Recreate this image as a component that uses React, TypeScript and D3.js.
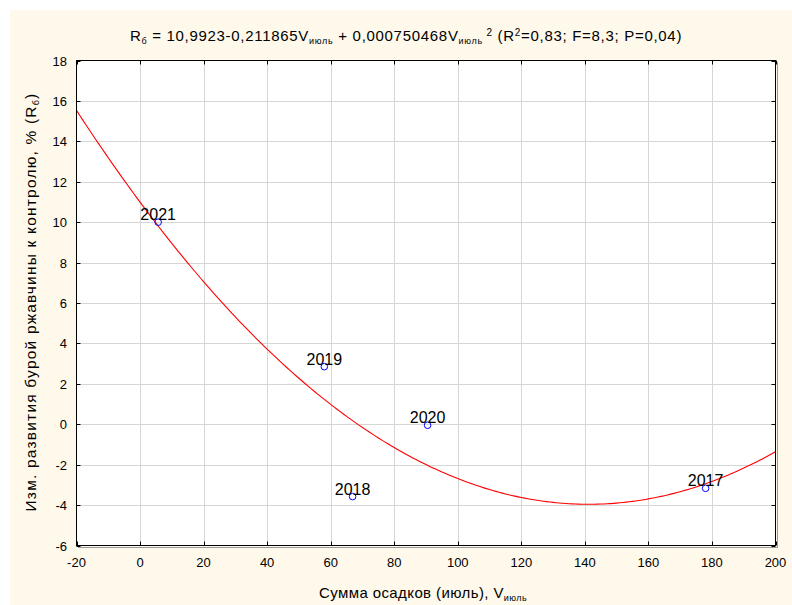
import React, { useEffect, useRef } from 'react';
import * as d3 from 'd3';

// observed points (year, July precipitation, change vs control)
const years = ['2017', '2018', '2019', '2020', '2021'];
const rainfall = [178, 66.9, 58, 90.5, 5.7];
const change = [-3.17, -3.58, 2.85, -0.05, 10.0];

// regression coefficients printed in the chart title
const coefs = [10.9923, -0.211865, 0.000750468];

const xTicks = [-20, 0, 20, 40, 60, 80, 100, 120, 140, 160, 180, 200];
const yTicks = [-6, -4, -2, 0, 2, 4, 6, 8, 10, 12, 14, 16, 18];

const App = () => {
    const svgRef = useRef<SVGSVGElement>(null);

    useEffect(() => {
        const width = 792;
        const height = 605;
        const left = 76.5, right = 775.5, top = 60.5, bottom = 545.5;
        const font = 'Arial, "Liberation Sans", sans-serif';

        const svg = d3.select(svgRef.current)
            .attr('width', width)
            .attr('height', height);
        svg.selectAll('*').remove();

        svg.append('rect').attr('x', 10).attr('y', 10)
            .attr('width', width - 10).attr('height', height - 10)
            .attr('fill', '#fff9ec');

        const x = d3.scaleLinear().domain([-20, 200]).range([left, right]);
        const y = d3.scaleLinear().domain([-6, 18]).range([bottom, top]);

        // shadow + plot area
        svg.append('rect').attr('x', left + 2).attr('y', top + 2)
            .attr('width', right - left).attr('height', bottom - top)
            .attr('fill', 'none').attr('stroke', '#9a9a9a');
        svg.append('rect').attr('x', left).attr('y', top)
            .attr('width', right - left).attr('height', bottom - top)
            .attr('fill', '#ffffff');

        const grid = svg.append('g').attr('stroke', '#d6d6d6').attr('stroke-width', 1);
        xTicks.slice(1, -1).forEach(t => {
            const px = Math.round(x(t)) + 0.5;
            grid.append('line').attr('x1', px).attr('x2', px).attr('y1', top).attr('y2', bottom);
        });
        yTicks.slice(1, -1).forEach(t => {
            const py = Math.round(y(t)) + 0.5;
            grid.append('line').attr('x1', left).attr('x2', right).attr('y1', py).attr('y2', py);
        });

        // fitted curve
        const fit = (v: number) => coefs[0] + coefs[1] * v + coefs[2] * v * v;
        const xs = d3.range(-20, 200.5, 1);
        const line = d3.line<number>().x(d => x(d)).y(d => y(fit(d)));
        svg.append('path').datum(xs).attr('d', line)
            .attr('fill', 'none').attr('stroke', '#ff0000').attr('stroke-width', 1.1);

        // points
        years.forEach((yr, i) => {
            svg.append('circle')
                .attr('cx', x(rainfall[i])).attr('cy', y(change[i])).attr('r', 3.3)
                .attr('fill', 'none').attr('stroke', '#0000ff').attr('stroke-width', 1);
            svg.append('text')
                .attr('x', x(rainfall[i])).attr('y', y(change[i]) - 2)
                .attr('text-anchor', 'middle')
                .attr('font-family', font).attr('font-size', 16)
                .attr('fill', '#000')
                .text(yr);
        });

        // frame and ticks
        svg.append('rect').attr('x', left).attr('y', top)
            .attr('width', right - left).attr('height', bottom - top)
            .attr('fill', 'none').attr('stroke', '#000').attr('stroke-width', 1);
        const ticks = svg.append('g').attr('stroke', '#000');
        xTicks.forEach(t => {
            const px = Math.round(x(t)) + 0.5;
            ticks.append('line').attr('x1', px).attr('x2', px).attr('y1', bottom).attr('y2', bottom - 4);
            ticks.append('line').attr('x1', px).attr('x2', px).attr('y1', top).attr('y2', top + 4);
        });
        yTicks.forEach(t => {
            const py = Math.round(y(t)) + 0.5;
            ticks.append('line').attr('x1', left).attr('x2', left + 4).attr('y1', py).attr('y2', py);
            ticks.append('line').attr('x1', right).attr('x2', right - 4).attr('y1', py).attr('y2', py);
        });

        svg.append('g').selectAll('text').data(xTicks).enter().append('text')
            .attr('x', d => x(d)).attr('y', 567)
            .attr('text-anchor', 'middle')
            .attr('font-family', font).attr('font-size', 13)
            .text(d => String(d));
        svg.append('g').selectAll('text').data(yTicks).enter().append('text')
            .attr('x', 67).attr('y', d => y(d) + 5)
            .attr('text-anchor', 'end')
            .attr('font-family', font).attr('font-size', 13)
            .text(d => String(d));

        // title
        const title = svg.append('text')
            .attr('x', 406).attr('y', 41)
            .attr('text-anchor', 'middle')
            .attr('letter-spacing', 0.7)
            .attr('font-family', font).attr('font-size', 15);
        const part = (s: string, kind?: 'sub' | 'sup') => {
            const ts = title.append('tspan').text(s);
            if (kind === 'sub') ts.attr('font-size', 9).attr('baseline-shift', '-3');
            if (kind === 'sup') ts.attr('font-size', 10).attr('baseline-shift', '5');
        };
        part('R'); part('б', 'sub');
        part(' = 10,9923-0,211865V'); part('июль', 'sub');
        part(' + 0,000750468V'); part('июль', 'sub'); part(' 2', 'sup');
        part(' (R'); part('2', 'sup'); part('=0,83; F=8,3; P=0,04)');

        // x label
        const xl = svg.append('text')
            .attr('x', 423).attr('y', 598)
            .attr('text-anchor', 'middle')
            .attr('letter-spacing', 0.4)
            .attr('font-family', font).attr('font-size', 15);
        xl.append('tspan').text('Сумма осадков (июль), V');
        xl.append('tspan').text('июль').attr('font-size', 9).attr('baseline-shift', '-3');

        // y label
        const yl = svg.append('text')
            .attr('transform', 'translate(36,302) rotate(-90)')
            .attr('text-anchor', 'middle')
            .attr('letter-spacing', 1.2)
            .attr('font-family', font).attr('font-size', 15.5);
        yl.append('tspan').text('Изм. развития бурой ржавчины к  контролю, % (R');
        yl.append('tspan').text('б').attr('font-size', 9).attr('baseline-shift', '-3');
        yl.append('tspan').text(')');
    }, []);

    return (
        <svg ref={svgRef} style={{ position: 'absolute', left: 0, top: 0, background: '#ffffff' }}></svg>
    );
};

export default App;
